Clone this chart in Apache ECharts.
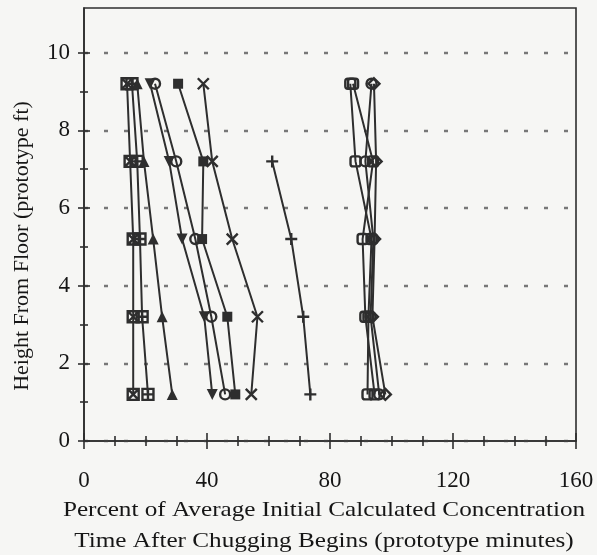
<!DOCTYPE html>
<html>
<head>
<meta charset="utf-8">
<script src="https://cdn.jsdelivr.net/npm/echarts@6/dist/echarts.min.js"></script>
<style>
  html, body { margin: 0; padding: 0; background: #f6f6f4; }
  #chart { width: 597px; height: 555px; }
</style>
</head>
<body>
<div id="chart"></div>
<script>
// Sampling heights above the floor (prototype ft)
const heights = [9.2, 7.2, 5.2, 3.2, 1.2];

// Percent of average initial calculated concentration at each height
const boxCross   = [14.0, 15.0, 16.0, 16.0, 16.0];
const boxPlus    = [15.6, 17.3, 18.2, 18.9, 20.8];
const triUp      = [17.3, 19.5, 22.5, 25.4, 28.7];
const triDown    = [21.5, 27.7, 31.9, 39.1, 41.7];
const ring       = [23.1, 30.0, 36.2, 41.4, 45.9];
const block      = [30.6, 38.8, 38.4, 46.6, 49.2];
const cross      = [38.8, 41.7, 48.2, 56.4, 54.4];
const plus       = [null, 61.2, 67.4, 71.3, 73.6];
const late1      = [86.6, 88.3, 93.5, 92.5, 92.2];
const late2      = [87.5, 94.0, 90.6, 91.5, 94.5];
const late3      = [93.5, 91.5, 94.1, 93.2, 96.0];
const late4      = [94.3, 95.0, 94.5, 93.8, 98.0];

// Axis tick values
const xMajor = [0, 40, 80, 120, 160];
const xMinor = [10, 20, 30, 50, 60, 70, 90, 100, 110, 130, 140, 150];
const yMajor = [0, 2, 4, 6, 8, 10];
const yMinor = [1, 3, 5, 7, 9];

// Axis titles
const xTitle1 = 'Percent of Average Initial Calculated Concentration';
const xTitle2 = 'Time After Chugging Begins (prototype minutes)';
const yTitle = 'Height From Floor (prototype ft)';

const INK = '#2e2e2e';
const TEXT = '#161616';
const FONT = '"Liberation Serif", "DejaVu Serif", serif';

const SYM = {
  boxCross: 'path://M0 0L10 0L10 10L0 10ZM0 0L10 10M10 0L0 10',
  boxPlus: 'path://M0 0L10 0L10 10L0 10ZM5 0L5 10M0 5L10 5',
  cross: 'path://M0 0L10 10M10 0L0 10',
  plus: 'path://M5 0L5 10M0 5L10 5'
};

function pts(vals) {
  const out = [];
  vals.forEach((v, i) => { if (v !== null) out.push([v, heights[i]]); });
  return out;
}

function line(vals, symbol, opts) {
  opts = opts || {};
  return {
    type: 'line',
    data: pts(vals),
    symbol: symbol,
    symbolSize: opts.size || 11,
    symbolRotate: opts.rotate || 0,
    showAllSymbol: true,
    lineStyle: { color: INK, width: 2 },
    itemStyle: {
      color: opts.hollow ? 'rgba(0,0,0,0)' : INK,
      borderColor: INK,
      borderWidth: opts.hollow ? 2.4 : 0
    },
    emphasis: { disabled: true },
    animation: false,
    z: 3
  };
}

const axisLineStyle = { show: true, lineStyle: { color: INK, width: 1.6 } };
const tickStyle = (len, inside, values) => ({
  show: true, length: len, inside: inside, customValues: values,
  lineStyle: { color: INK, width: 1.6 }
});

function xAx(ticks, len, inside, withLabels, withLine) {
  return {
    type: 'value', min: 0, max: 160, position: 'bottom',
    axisLine: withLine ? axisLineStyle : { show: false },
    axisTick: tickStyle(len, inside, ticks),
    axisLabel: withLabels ? {
      show: true, customValues: xMajor, margin: 28,
      color: TEXT, fontFamily: FONT, fontSize: 23
    } : { show: false },
    splitLine: { show: false }
  };
}

function yAx(ticks, len, inside, withLabels, withLine, withGrid) {
  return {
    type: 'value', min: 0, max: 11.15, position: 'left',
    axisLine: withLine ? axisLineStyle : { show: false },
    axisTick: tickStyle(len, inside, ticks),
    axisLabel: withLabels ? {
      show: true, customValues: yMajor, margin: 14,
      color: TEXT, fontFamily: FONT, fontSize: 23
    } : { show: false },
    splitLine: withGrid ? {
      show: true,
      lineStyle: { color: '#777', width: 2.4, type: [4, 16] }
    } : { show: false }
  };
}

const chart = echarts.init(document.getElementById('chart'), null, { renderer: 'canvas' });
chart.setOption({
  backgroundColor: '#f6f6f4',
  animation: false,
  grid: {
    left: 84, right: 21, top: 8, bottom: 114,
    show: true, borderColor: INK, borderWidth: 1.6, backgroundColor: 'transparent'
  },
  xAxis: [
    xAx(xMajor, 8, false, true, true),
    xAx(xMajor, 8, true, false, false),
    xAx(xMinor, 5, false, false, false),
    xAx(xMinor, 5, true, false, false)
  ],
  yAxis: [
    yAx(yMajor, 6, false, true, true, true),
    yAx(yMajor, 6, true, false, false, false),
    yAx(yMinor, 4, false, false, false, false),
    yAx(yMinor, 4, true, false, false, false)
  ],
  series: [
    line(boxCross, SYM.boxCross, { hollow: true }),
    line(boxPlus, SYM.boxPlus, { hollow: true }),
    line(triUp, 'triangle', {}),
    line(triDown, 'triangle', { rotate: 180 }),
    line(ring, 'circle', { hollow: true, size: 10 }),
    line(block, 'rect', { size: 10 }),
    line(cross, SYM.cross, { hollow: true }),
    line(plus, SYM.plus, { hollow: true, size: 12 }),
    line(late1, 'roundRect', { hollow: true, size: 10 }),
    line(late2, 'roundRect', { hollow: true, size: 10 }),
    line(late3, 'circle', { hollow: true, size: 10 }),
    line(late4, 'diamond', { hollow: true, size: 11 })
  ],
  graphic: [
    {
      type: 'text', x: 324, y: 510, scaleX: 1.2,
      style: {
        text: xTitle1, x: 0, y: 0, align: 'center', verticalAlign: 'middle',
        fill: TEXT, font: '21px ' + FONT
      }
    },
    {
      type: 'text', x: 324, y: 541, scaleX: 1.2,
      style: {
        text: xTitle2, x: 0, y: 0, align: 'center', verticalAlign: 'middle',
        fill: TEXT, font: '21px ' + FONT
      }
    },
    {
      type: 'text', x: 22, y: 246, rotation: Math.PI / 2,
      style: {
        text: yTitle, x: 0, y: 0, align: 'center', verticalAlign: 'middle',
        fill: TEXT, font: '22px ' + FONT
      }
    }
  ]
});
</script>
</body>
</html>
